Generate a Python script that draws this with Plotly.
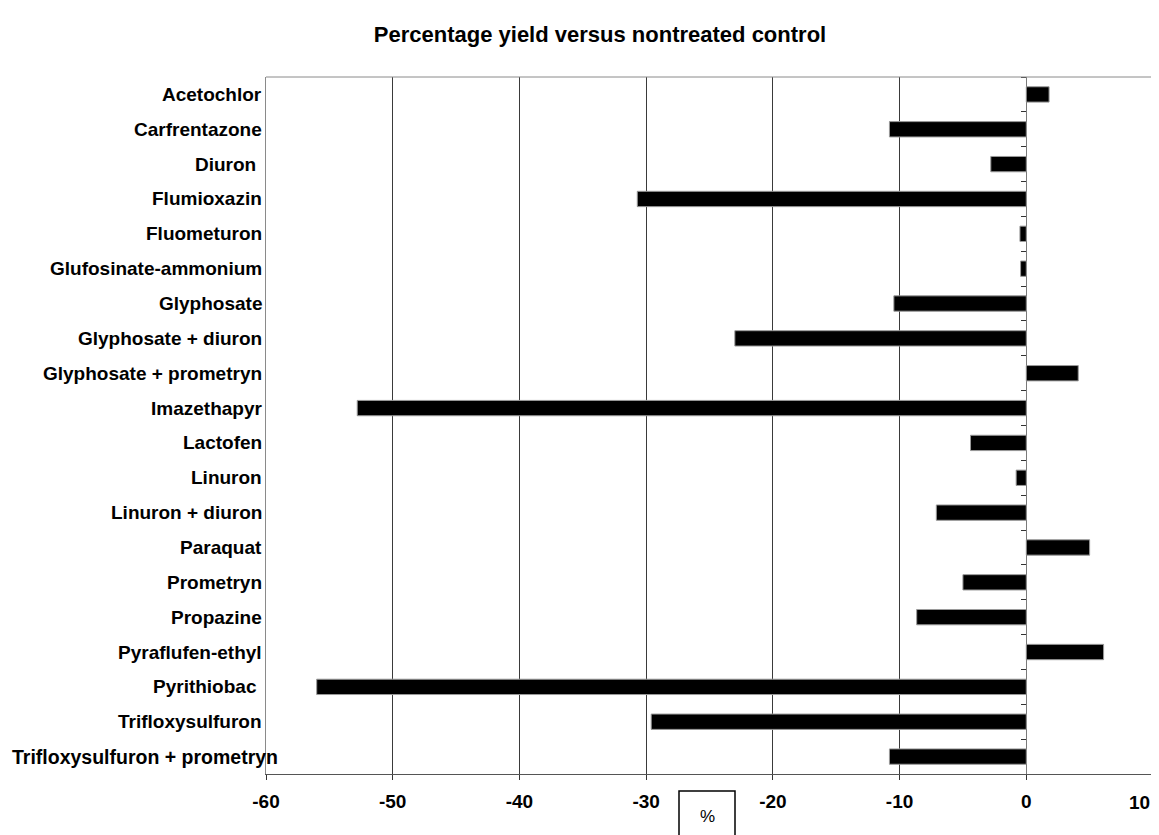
import plotly.graph_objects as go

herbicides = [
    "Acetochlor", "Carfrentazone", "Diuron\u00a0", "Flumioxazin", "Fluometuron",
    "Glufosinate-ammonium", "Glyphosate", "Glyphosate + diuron",
    "Glyphosate + prometryn", "Imazethapyr", "Lactofen", "Linuron",
    "Linuron + diuron", "Paraquat", "Prometryn", "Propazine",
    "Pyraflufen-ethyl", "Pyrithiobac\u00a0", "Trifloxysulfuron",
    "Trifloxysulfuron + prometryn",
]
yield_pct = [
    1.8, -10.8, -2.8, -30.7, -0.5,
    -0.45, -10.45, -23.0,
    4.1, -52.8, -4.4, -0.8,
    -7.1, 5.0, -5.0, -8.65,
    6.1, -56.0, -29.6,
    -10.8,
]
x_ticks = [-60, -50, -40, -30, -20, -10, 0, 10]
title_text = "Percentage yield versus nontreated control"
axis_unit = "%"

# page body has an 8px margin: figure sized so it fits the window
W, H = 1151, 827
L, R, T, B = 258, 6, 69, 61
PW, PH = W - L - R, H - T - B
FONT = "Liberation Sans, Arial, sans-serif"
n = len(herbicides)

fig = go.Figure()
fig.add_trace(go.Bar(
    x=yield_pct, y=herbicides, orientation="h",
    width=0.44,
    marker=dict(color="black", line=dict(color="#9a9a9a", width=1)),
    showlegend=False, hoverinfo="x+y",
))
# invisible trace on overlay axis placed at x=0 (tick marks between categories)
fig.add_trace(go.Scatter(
    x=[0] * n, y=herbicides, yaxis="y2", mode="markers",
    marker=dict(opacity=0), showlegend=False, hoverinfo="skip",
))

pos0 = (0 - x_ticks[0]) / (x_ticks[-1] - x_ticks[0])
yr = [n - 0.5, -0.5]
tick_font = dict(family=FONT, size=19, color="black", weight="bold")

label_anns = []
for i, name in enumerate(herbicides):
    if i == n - 1:
        label_anns.append(dict(
            text=name, xref="paper", yref="y", x=(2 - L) / PW, y=name,
            xanchor="left", yanchor="middle", showarrow=False,
            font=dict(family=FONT, size=19.5, color="black", weight="bold")))
    else:
        label_anns.append(dict(
            text=name, xref="paper", yref="y", x=0, xshift=-2, y=name,
            xanchor="right", yanchor="middle", showarrow=False,
            font=tick_font))

# last tick label is drawn nudged inward (as in the reference) so it fits the page
tick_text = [str(v) for v in x_ticks[:-1]] + [""]
last_tick_ann = dict(
    text=str(x_ticks[-1]), xref="x", yref="paper", x=x_ticks[-1], xshift=-14,
    y=-(794 - (H - B)) / PH, xanchor="center", yanchor="middle",
    showarrow=False, font=tick_font)

fig.update_layout(
    width=W, height=H,
    margin=dict(l=L, r=R, t=T, b=B, pad=0, autoexpand=False),
    paper_bgcolor="white", plot_bgcolor="white",
    title=dict(text=title_text, x=592 / W, xref="container", xanchor="center",
               y=1 - 26 / H, yanchor="middle", yref="container",
               font=dict(family=FONT, size=22, color="black", weight="bold")),
    font=dict(family=FONT, color="black"),
    xaxis=dict(
        range=[x_ticks[0], x_ticks[-1]], tickvals=x_ticks,
        ticktext=tick_text, automargin=False,
        showgrid=True, gridcolor="#3a3a3a", gridwidth=1,
        zeroline=True, zerolinecolor="#7a7a7a", zerolinewidth=1,
        showline=True, linecolor="#555555", linewidth=1, mirror=False,
        ticks="outside", ticklen=5, tickcolor="#333333",
        ticklabelstandoff=5,
        tickfont=tick_font,
    ),
    yaxis=dict(
        categoryorder="array", categoryarray=herbicides,
        range=yr, autorange=False, automargin=False,
        showgrid=False, ticks="", showticklabels=False,
        showline=True, linecolor="#8a8a8a", linewidth=1,
    ),
    yaxis2=dict(
        overlaying="y", anchor="free", position=pos0, side="left",
        categoryorder="array", categoryarray=herbicides,
        range=yr, autorange=False, automargin=False,
        showticklabels=False, showgrid=False, showline=False,
        ticks="outside", tickson="boundaries", ticklen=5, tickcolor="#333333",
    ),
    shapes=[
        dict(type="line", xref="paper", yref="paper", x0=0, x1=1, y0=1, y1=1,
             line=dict(color="#8a8a8a", width=1)),
        dict(type="line", xref="paper", yref="paper", x0=1, x1=1, y0=0, y1=1,
             line=dict(color="#8a8a8a", width=1)),
        dict(type="rect", xref="paper", yref="paper",
             x0=(671 - L) / PW, x1=(727 - L) / PW,
             y0=-(783 - (H - B)) / PH, y1=-(845 - (H - B)) / PH,
             line=dict(color="black", width=1.5), fillcolor="white"),
    ],
    annotations=label_anns + [last_tick_ann] + [
        dict(text=axis_unit, xref="paper", yref="paper",
             x=(699 - L) / PW, y=-(808 - (H - B)) / PH,
             xanchor="center", yanchor="middle", showarrow=False,
             font=dict(family=FONT, size=17, color="black")),
    ],
)

fig.write_html("out.html")
